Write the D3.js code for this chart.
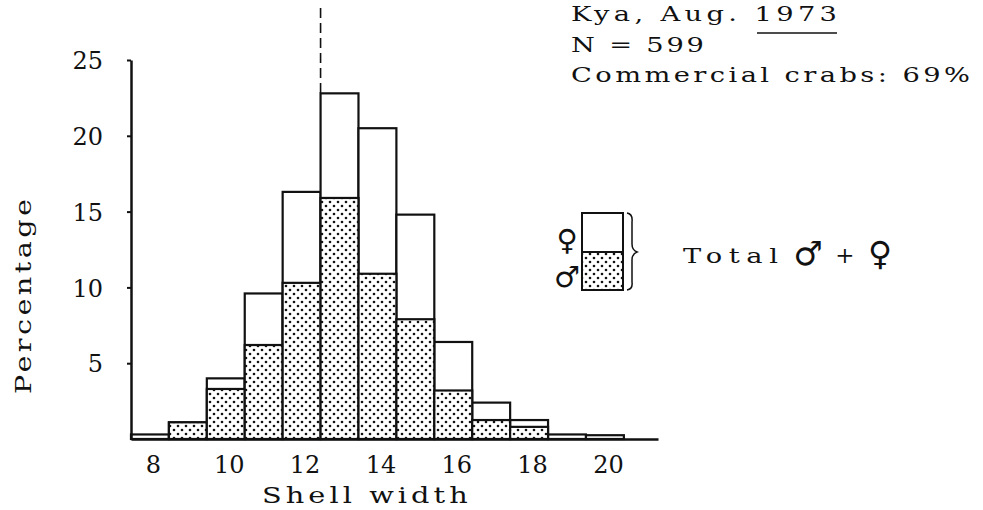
<!DOCTYPE html>
<html>
<head>
    <style>
        body {
            margin: 0;
            background: #fff;
        }

        .type {
            font-family: "DejaVu Serif", serif;
            font-size: 21px;
            fill: #111;
        }

        .sym {
            font-family: "DejaVu Sans", sans-serif;
            fill: #111;
        }
    </style>
</head>
<body>
    <svg id="chart" width="983" height="510"></svg>
    <script src="https://cdnjs.cloudflare.com/ajax/libs/d3/7.8.5/d3.min.js"></script>
    <script>
        // shell width classes (cm) and percentage of catch
        const widthClasses = [8, 9, 10, 11, 12, 13, 14, 15, 16, 17, 18, 19, 20];
        const totalPct = [0.3, 1.1, 4.0, 9.6, 16.3, 22.8, 20.5, 14.8, 6.4, 2.4, 1.25, 0.3, 0.25];
        const malePct = [0, 1.1, 3.3, 6.2, 10.3, 15.9, 10.9, 7.9, 3.2, 1.25, 0.8, 0, 0];
        const yTicks = [5, 10, 15, 20, 25];
        const xTicks = [8, 10, 12, 14, 16, 18, 20];
        const commercialLimit = 12.5;
        const infoLines = ["Kya, Aug. 1973", "N = 599", "Commercial crabs: 69%"];

        const svg = d3.select("#chart");

        // typewriter look: serif glyphs stretched sideways, fixed pitch
        function typeText(sel, str, tf, pitch, size, stretch) {
            return sel.append("text")
                .attr("class", "type")
                .attr("transform", `${tf} scale(${stretch},1)`)
                .attr("textLength", str.length * pitch / stretch)
                .attr("lengthAdjust", "spacing")
                .style("font-size", size + "px")
                .text(str);
        }

        const x = d3.scaleLinear().domain([7.5, 21.4]).range([131, 658]);
        const y = d3.scaleLinear().domain([0, 25]).range([439, 60]);

        // dotted fill for the males
        const pat = svg.append("defs").append("pattern")
            .attr("id", "dots")
            .attr("patternUnits", "userSpaceOnUse")
            .attr("width", 8)
            .attr("height", 8);
        pat.append("rect").attr("width", 8).attr("height", 8).attr("fill", "#fff");
        pat.append("circle").attr("cx", 2).attr("cy", 2).attr("r", 1.3).attr("fill", "#111");
        pat.append("circle").attr("cx", 6).attr("cy", 6).attr("r", 1.3).attr("fill", "#111");

        const bins = widthClasses.map((w, i) => ({ w: w, total: totalPct[i], male: malePct[i] }));

        // total bars
        svg.append("g").selectAll("rect")
            .data(bins)
            .join("rect")
            .attr("x", d => x(d.w - 0.5))
            .attr("y", d => y(d.total))
            .attr("width", d => x(d.w + 0.5) - x(d.w - 0.5))
            .attr("height", d => y(0) - y(d.total))
            .attr("fill", "#fff")
            .attr("stroke", "#111")
            .attr("stroke-width", 2.2);

        // male part
        svg.append("g").selectAll("rect")
            .data(bins.filter(d => d.male > 0))
            .join("rect")
            .attr("x", d => x(d.w - 0.5))
            .attr("y", d => y(d.male))
            .attr("width", d => x(d.w + 0.5) - x(d.w - 0.5))
            .attr("height", d => y(0) - y(d.male))
            .attr("fill", "url(#dots)")
            .attr("stroke", "#111")
            .attr("stroke-width", 2.2);

        // y axis
        const yAxis = svg.append("g")
            .attr("transform", `translate(${x(7.5)},0)`)
            .call(d3.axisLeft(y).tickValues(yTicks).tickSize(4).tickSizeOuter(0).tickPadding(24));
        yAxis.select(".domain").attr("stroke", "#111").attr("stroke-width", 2.5);
        yAxis.selectAll(".tick line").attr("stroke", "#111").attr("stroke-width", 2);
        yAxis.selectAll(".tick text")
            .attr("class", "type")
            .attr("dy", "0.36em")
            .style("font-size", "24px");

        // x axis (baseline)
        const xAxis = svg.append("g")
            .attr("transform", `translate(0,${y(0)})`)
            .call(d3.axisBottom(x).tickValues(xTicks).tickSize(0).tickSizeOuter(0));
        xAxis.select(".domain").attr("stroke", "#111").attr("stroke-width", 2.5);
        xAxis.selectAll(".tick text")
            .attr("class", "type")
            .attr("x", 3)
            .attr("y", 34)
            .attr("dy", 0)
            .style("font-size", "24px");

        // axis titles
        typeText(svg, "Shell width", "translate(262,503)", 18.7, 23, 1.25);
        typeText(svg, "Percentage", "translate(31,394) rotate(-90)", 19.5, 23, 1.25);

        // commercial size limit
        svg.append("line")
            .attr("x1", x(commercialLimit))
            .attr("x2", x(commercialLimit))
            .attr("y1", 8)
            .attr("y2", y(d3.max(totalPct)))
            .attr("stroke", "#111")
            .attr("stroke-width", 1.6)
            .attr("stroke-dasharray", "10,5");

        // info block
        const infoY = [21, 52, 82];
        infoLines.forEach((s, i) => typeText(svg, s, `translate(571,${infoY[i]})`, 19, 21, 1.3));
        svg.append("line")
            .attr("x1", 757).attr("x2", 837)
            .attr("y1", 33).attr("y2", 33)
            .attr("stroke", "#111").attr("stroke-width", 1.5);

        // legend
        const lg = svg.append("g");
        lg.append("rect").attr("x", 582).attr("y", 213).attr("width", 41).attr("height", 39)
            .attr("fill", "#fff").attr("stroke", "#111").attr("stroke-width", 2);
        lg.append("rect").attr("x", 582).attr("y", 252).attr("width", 41).attr("height", 38)
            .attr("fill", "url(#dots)").attr("stroke", "#111").attr("stroke-width", 2);
        lg.append("path")
            .attr("d", "M627,213 Q633,214 632,222 L632,244 Q632,250 637,252 Q632,254 632,260 L632,282 Q633,289 627,290")
            .attr("fill", "none").attr("stroke", "#111").attr("stroke-width", 1.5);
        lg.append("text").attr("class", "sym").attr("x", 567).attr("y", 250)
            .attr("text-anchor", "middle").style("font-size", "29px").text("♀");
        lg.append("text").attr("class", "sym").attr("x", 567).attr("y", 287)
            .attr("text-anchor", "middle").style("font-size", "29px").text("♂");

        typeText(lg, "Total", "translate(683,263)", 19, 21, 1.3);
        lg.append("text").attr("class", "sym").attr("x", 808).attr("y", 265)
            .attr("text-anchor", "middle").style("font-size", "33px").text("♂");
        lg.append("text").attr("class", "type").attr("x", 845).attr("y", 263)
            .attr("text-anchor", "middle").style("font-size", "23px").text("+");
        lg.append("text").attr("class", "sym").attr("x", 880).attr("y", 265)
            .attr("text-anchor", "middle").style("font-size", "33px").text("♀");
    </script>
</body>
</html>
